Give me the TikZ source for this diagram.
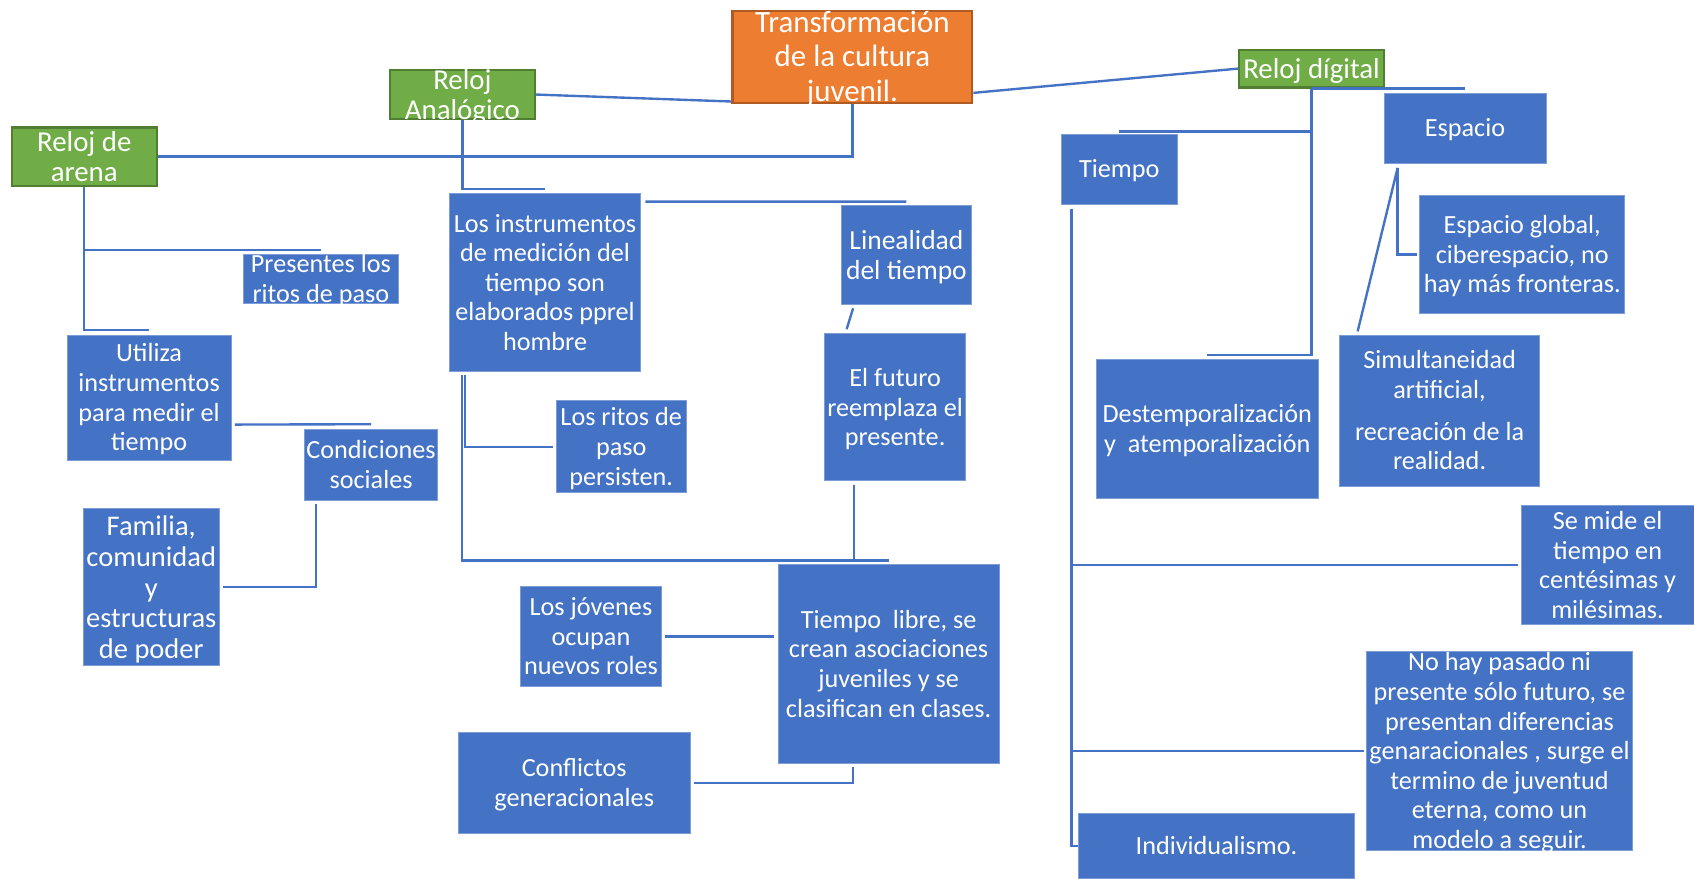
\documentclass[tikz,border=0pt]{standalone}
\usepackage{fontspec}
\setmainfont{Carlito}
\usepackage{tikz}
\definecolor{MapBlue}{HTML}{4472C4}
\definecolor{MapBlueEdge}{HTML}{7E9CD6}
\definecolor{MapGreen}{HTML}{70AD47}
\definecolor{MapGreenEdge}{HTML}{507E32}
\definecolor{MapOrange}{HTML}{ED7D31}
\definecolor{MapOrangeEdge}{HTML}{AE5A21}
\newcommand{\boxlines}[1]{\makebox[0pt]{\raisebox{-0.37em}[0pt][0pt]{\begin{tabular}{@{}c@{}}#1\end{tabular}}}}

\begin{document}
\begin{tikzpicture}[
    x=0.02cm, y=-0.02cm,
    dims/.style 2 args={minimum width=#1, minimum height=#2},
    box/.style={draw=MapBlueEdge, line width=0.4pt, fill=MapBlue, text=white,
      inner sep=0pt, font=\fontsize{13.8}{15.6}\selectfont},
    clock/.style={draw=MapGreenEdge, line width=1.1pt, fill=MapGreen, text=white,
      inner sep=0pt, font=\fontsize{15.2}{15.9}\selectfont},
    topic/.style={draw=MapOrangeEdge, line width=1.1pt, fill=MapOrange, text=white,
      inner sep=0pt, font=\fontsize{16.3}{18.2}\selectfont},
    link/.style={draw=MapBlue, line width=1.25pt}
  ]
    \path[use as bounding box, fill=white] (0,0) rectangle (1568,815);
    \node[topic, dims={4.44cm}{1.70cm}] (transf) at (789,52.5) {\boxlines{Transformación\\de la cultura\\juvenil.}};
    \node[clock, dims={2.68cm}{0.90cm}] (analog) at (428,87.5) {\boxlines{Reloj\\Analógico}};
    \node[clock, dims={2.68cm}{1.08cm}] (arena) at (78,145) {\boxlines{Reloj de\\arena}};
    \node[clock, dims={2.68cm}{0.70cm}] (digital) at (1214,63.5) {\boxlines{Reloj dígital}};
    \node[box, dims={2.88cm}{0.92cm}] (presentes) at (297,258) {\boxlines{Presentes los\\ritos de paso}};
    \node[box, dims={3.04cm}{2.32cm}] (utiliza) at (138,368) {\boxlines{Utiliza\\instrumentos\\para medir el\\tiempo}};
    \node[box, dims={2.46cm}{1.32cm}] (social) at (343.5,430) {\boxlines{Condiciones\\sociales}};
    \node[box, dims={2.52cm}{2.90cm}, font=\fontsize{15}{16.2}\selectfont] (familia) at (140,543.5) {\boxlines{Familia,\\comunidad\\y\\estructuras\\de poder}};
    \node[box, dims={3.54cm}{3.30cm}] (instrum) at (504.5,261.5) {\boxlines{Los instrumentos\\de medición del\\tiempo son\\elaborados pprel\\hombre}};
    \node[box, dims={2.40cm}{1.70cm}] (ritos) at (575,413.5) {\boxlines{Los ritos de\\paso\\persisten.}};
    \node[box, dims={2.40cm}{1.84cm}, font=\fontsize{14.5}{16}\selectfont] (lineal) at (839,236) {\boxlines{Linealidad\\del tiempo}};
    \node[box, dims={2.62cm}{2.72cm}] (futuro) at (828.5,377) {\boxlines{El futuro\\reemplaza el\\presente.}};
    \node[box, dims={2.60cm}{1.84cm}] (jovenes) at (547,589) {\boxlines{Los jóvenes\\ocupan\\nuevos roles}};
    \node[box, dims={4.10cm}{3.70cm}] (libre) at (822.5,614.5) {\boxlines{Tiempo\ \ libre, se\\crean asociaciones\\juveniles y se\\clasifican en clases.}};
    \node[box, dims={4.30cm}{1.86cm}] (conflict) at (531.5,724.5) {\boxlines{Conflictos\\generacionales}};
    \node[box, dims={2.16cm}{1.30cm}] (tiempo) at (1036,156.5) {\boxlines{Tiempo}};
    \node[box, dims={3.00cm}{1.30cm}] (espacio) at (1356,118.5) {\boxlines{Espacio}};
    \node[box, dims={3.80cm}{2.18cm}] (global) at (1409,235.5) {\boxlines{Espacio global,\\ciberespacio, no\\hay más fronteras.}};
    \node[box, dims={4.10cm}{2.56cm}] (destemp) at (1117.5,397) {\boxlines{Destemporalización\\y\ \ atemporalización}};
    \node[box, dims={3.70cm}{2.80cm}] (simult) at (1332.5,380) {\boxlines{Simultaneidad\\artificial,\\[0.22cm]recreación de la\\realidad.}};
    \node[box, dims={3.20cm}{2.20cm}] (mide) at (1488,523) {\boxlines{Se mide el\\tiempo en\\centésimas y\\milésimas.}};
    \node[box, dims={4.92cm}{3.68cm}] (pasado) at (1388,695) {\boxlines{No hay pasado ni\\presente sólo futuro, se\\presentan diferencias\\genaracionales , surge el\\termino de juventud\\eterna, como un\\modelo a seguir.}};
    \node[box, dims={5.12cm}{1.20cm}] (indiv) at (1126,783) {\boxlines{Individualismo.}};
    \draw[link] ([yshift=0.04cm]transf.south west) -- (analog.east);
    \draw[link] ([yshift=0.2cm]transf.south east) -- (digital.west);
    \draw[link] (transf.south) |- (arena.east);
    \draw[link] (analog.south) |- ([yshift=0.08cm]instrum.north);
    \draw[link] ([xshift=0.08cm,yshift=-0.16cm]instrum.north east) -- ([yshift=0.06cm]lineal.north);
    \draw[link] (arena.south) |- ([yshift=0.06cm]presentes.north);
    \draw[link] (arena.south) |- ([yshift=0.08cm]utiliza.north);
    \draw[link] ([xshift=0.06cm,yshift=-0.5cm]utiliza.east) -- ([yshift=0.08cm]social.north);
    \draw[link] ([xshift=0.22cm,yshift=-0.06cm]social.south west) |- ([xshift=0.06cm]familia.east);
    \draw[link] ([xshift=0.3cm,yshift=-0.06cm]instrum.south west) |- ([xshift=-0.06cm]ritos.west);
    \draw[link] ([xshift=0.24cm,yshift=-0.06cm]instrum.south west) |- ([yshift=0.06cm]libre.north);
    \draw[link] ([xshift=0.56cm,yshift=-0.08cm]futuro.south west) |- ([yshift=0.06cm]libre.north);
    \draw[link] ([xshift=0.42cm,yshift=0.08cm]futuro.north west) -- ([xshift=0.22cm,yshift=-0.06cm]lineal.south west);
    \draw[link] ([xshift=0.06cm]jovenes.east) -- ([xshift=-0.06cm]jovenes.east -| libre.west);
    \draw[link] ([xshift=1.4cm,yshift=-0.06cm]libre.south west) |- ([xshift=0.06cm]conflict.east);
    \draw[link] (digital.south) |- ([yshift=0.04cm]tiempo.north);
    \draw[link] (digital.south) |- ([yshift=0.08cm]destemp.north);
    \draw[link] (digital.south) -- (digital.south -| espacio.north);
    \draw[link] ([xshift=0.26cm,yshift=-0.08cm]espacio.south west) |- ([xshift=-0.04cm]global.west);
    \draw[link] ([xshift=0.26cm,yshift=-0.08cm]espacio.south west) -- ([xshift=0.34cm,yshift=0.06cm]simult.north west);
    \draw[link] ([xshift=0.2cm,yshift=-0.08cm]tiempo.south west) |- ([xshift=-0.06cm]mide.west);
    \draw[link] ([xshift=0.2cm,yshift=-0.08cm]tiempo.south west) |- ([xshift=-0.04cm]pasado.west);
    \draw[link] ([xshift=0.2cm,yshift=-0.08cm]tiempo.south west) |- (indiv.west);
  \end{tikzpicture}
\end{document}
